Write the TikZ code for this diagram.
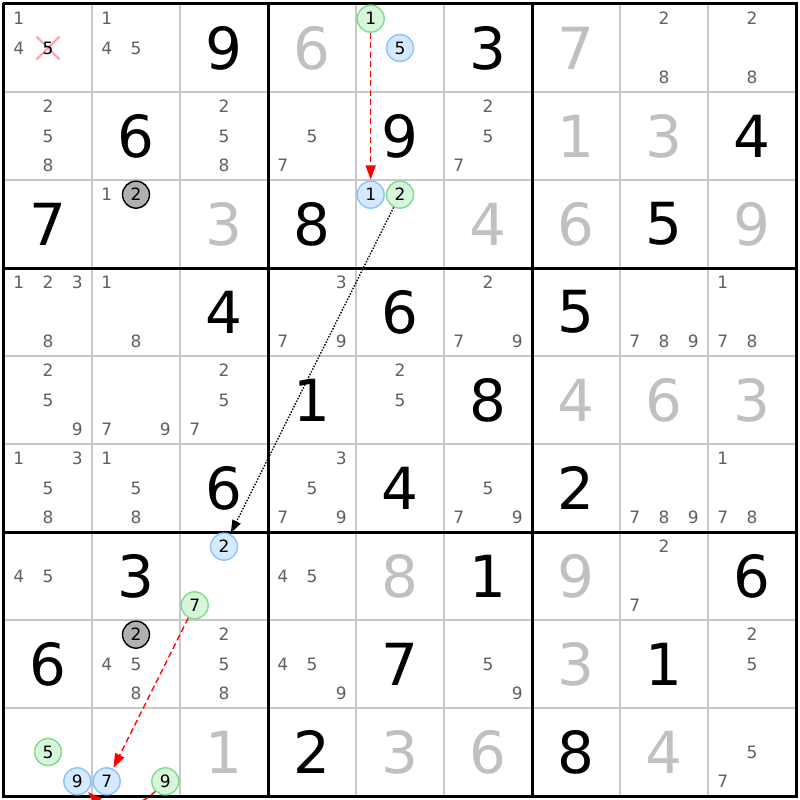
\documentclass[tikz,border=0pt]{standalone}
\usepackage{fontspec}
\setmainfont{DejaVu Sans}
\usetikzlibrary{arrows.meta}
\definecolor{candgray}{RGB}{96,96,96}
\definecolor{solvedgray}{RGB}{192,192,192}
\definecolor{gridgray}{RGB}{200,200,200}
\definecolor{bluefill}{RGB}{214,234,255}
\definecolor{blueline}{RGB}{138,194,255}
\definecolor{greenfill}{RGB}{214,245,218}
\definecolor{greenline}{RGB}{128,218,142}
\definecolor{darkfill}{RGB}{176,176,176}
\definecolor{crosspink}{RGB}{248,160,170}
\tikzset{
  given/.style={font=\fontsize{58}{60}\selectfont, text=black, inner sep=0pt},
  solved/.style={given, text=solvedgray},
  cand/.style={font=\fontsize{17}{18}\selectfont, text=candgray, inner sep=0pt},
  digitcirc/.style={circle, minimum size=27pt, inner sep=0pt, line width=1.4pt,
    font=\fontsize{17}{18}\selectfont, text=black},
  bluecirc/.style={digitcirc, draw=blueline, fill=bluefill},
  greencirc/.style={digitcirc, draw=greenline, fill=greenfill},
  graycirc/.style={digitcirc, draw=black, fill=darkfill},
  cellline/.style={draw=gridgray, line width=1.4pt},
  boxline/.style={draw=black, line width=3pt},
  strong/.style={draw=red, line width=1.4pt, dash pattern=on 6pt off 3.5pt,
    -{Triangle[length=14pt, width=10pt]}, shorten >=1pt},
  weak/.style={draw=black, line width=1.3pt, dash pattern=on 1.5pt off 1.5pt,
    -{Triangle[length=13pt, width=9pt]}, shorten >=1pt},
  crossout/.style={draw=crosspink, line width=2pt}
}
\newcommand\pos[3]{%
  \pgfmathsetmacro\px{#2-1+(mod(#3-1,3)+0.5)/3}%
  \pgfmathsetmacro\py{#1-1+(floor((#3-1)/3)+0.5)/3}}
\newcommand\cands[3]{%
  \foreach \k in {#3}{\pos{#1}{#2}{\k}\node[cand] (r#1c#2n\k) at (\px,\py) {\k};}}
\newcommand\given[3]{\node[given] (r#1c#2) at (#2-0.5,#1-0.5) {#3};}
\newcommand\solved[3]{\node[solved] (r#1c#2) at (#2-0.5,#1-0.5) {#3};}
\begin{document}
\begin{tikzpicture}[x=88pt, y=-88pt]
  \useasboundingbox[fill=white] (-0.04545,-0.04545) rectangle (9.04545,9.04545);
  \foreach \i in {1,2,4,5,7,8}{
    \draw[cellline] (\i,0) -- (\i,9);
    \draw[cellline] (0,\i) -- (9,\i);
  }
  \foreach \i in {0,3,6,9}{
    \draw[boxline] (\i,-0.017) -- (\i,9.017);
    \draw[boxline] (-0.017,\i) -- (9.017,\i);
  }

  \given{1}{3}{9} \given{1}{6}{3}
  \given{2}{2}{6} \given{2}{5}{9} \given{2}{9}{4}
  \given{3}{1}{7} \given{3}{4}{8} \given{3}{8}{5}
  \given{4}{3}{4} \given{4}{5}{6} \given{4}{7}{5}
  \given{5}{4}{1} \given{5}{6}{8}
  \given{6}{3}{6} \given{6}{5}{4} \given{6}{7}{2}
  \given{7}{2}{3} \given{7}{6}{1} \given{7}{9}{6}
  \given{8}{1}{6} \given{8}{5}{7} \given{8}{8}{1}
  \given{9}{4}{2} \given{9}{7}{8}

  \solved{1}{4}{6} \solved{1}{7}{7}
  \solved{2}{7}{1} \solved{2}{8}{3}
  \solved{3}{3}{3} \solved{3}{6}{4} \solved{3}{7}{6} \solved{3}{9}{9}
  \solved{5}{7}{4} \solved{5}{8}{6} \solved{5}{9}{3}
  \solved{7}{5}{8} \solved{7}{7}{9}
  \solved{8}{7}{3}
  \solved{9}{3}{1} \solved{9}{5}{3} \solved{9}{6}{6} \solved{9}{8}{4}

  \cands{1}{1}{1,4}
  \cands{1}{2}{1,4,5}
  \cands{1}{8}{2,8}
  \cands{1}{9}{2,8}
  \cands{2}{1}{2,5,8}
  \cands{2}{3}{2,5,8}
  \cands{2}{4}{5,7}
  \cands{2}{6}{2,5,7}
  \cands{3}{2}{1}
  \cands{4}{1}{1,2,3,8}
  \cands{4}{2}{1,8}
  \cands{4}{4}{3,7,9}
  \cands{4}{6}{2,7,9}
  \cands{4}{8}{7,8,9}
  \cands{4}{9}{1,7,8}
  \cands{5}{1}{2,5,9}
  \cands{5}{2}{7,9}
  \cands{5}{3}{2,5,7}
  \cands{5}{5}{2,5}
  \cands{6}{1}{1,3,5,8}
  \cands{6}{2}{1,5,8}
  \cands{6}{4}{3,5,7,9}
  \cands{6}{6}{5,7,9}
  \cands{6}{8}{7,8,9}
  \cands{6}{9}{1,7,8}
  \cands{7}{1}{4,5}
  \cands{7}{4}{4,5}
  \cands{7}{8}{2,7}
  \cands{8}{2}{4,5,8}
  \cands{8}{3}{2,5,8}
  \cands{8}{4}{4,5,9}
  \cands{8}{6}{5,9}
  \cands{8}{9}{2,5}
  \cands{9}{9}{5,7}

  \pos{1}{1}{5}
  \draw[crossout] (\px,\py) +(-0.13,-0.13) -- +(0.13,0.13);
  \draw[crossout] (\px,\py) +(-0.13,0.13) -- +(0.13,-0.13);
  \node[cand, text=black] (r1c1n5) at (\px,\py) {5};

  \pos{3}{2}{2}\node[graycirc] (r3c2n2) at (\px,\py) {2};
  \pos{8}{2}{2}\node[graycirc] (r8c2n2) at (\px,\py) {2};

  \pos{1}{5}{1}\node[greencirc] (r1c5n1) at (\px,\py) {1};
  \pos{1}{5}{5}\node[bluecirc] (r1c5n5) at (\px,\py) {5};
  \pos{3}{5}{1}\node[bluecirc] (r3c5n1) at (\px,\py) {1};
  \pos{3}{5}{2}\node[greencirc] (r3c5n2) at (\px,\py) {2};
  \pos{7}{3}{2}\node[bluecirc] (r7c3n2) at (\px,\py) {2};
  \pos{7}{3}{7}\node[greencirc] (r7c3n7) at (\px,\py) {7};
  \pos{9}{1}{5}\node[greencirc] (r9c1n5) at (\px,\py) {5};
  \pos{9}{1}{9}\node[bluecirc] (r9c1n9) at (\px,\py) {9};
  \pos{9}{2}{7}\node[bluecirc] (r9c2n7) at (\px,\py) {7};
  \pos{9}{2}{9}\node[greencirc] (r9c2n9) at (\px,\py) {9};

  \draw[strong] (r1c5n1) -- (r3c5n1);
  \draw[weak] (r3c5n2) -- (r7c3n2);
  \draw[strong] (r7c3n7) -- (r9c2n7);
  \draw[strong] (r9c2n9) to[bend left=45] (r9c1n9);
\end{tikzpicture}
\end{document}
